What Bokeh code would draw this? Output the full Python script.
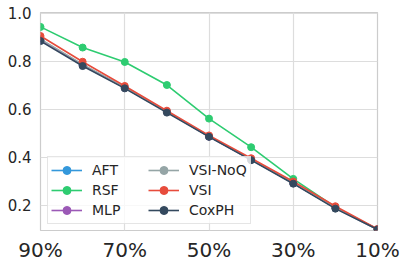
from bokeh.plotting import figure
from bokeh.models import Range1d, FixedTicker, Legend, LegendItem, NumeralTickFormatter
from bokeh.embed import file_html
from bokeh.resources import INLINE

x_vals = [90, 80, 70, 60, 50, 40, 30, 20, 10]
aft = [0.890, 0.785, 0.690, 0.590, 0.487, 0.390, 0.293, 0.190, 0.100]
rsf = [0.943, 0.857, 0.797, 0.701, 0.561, 0.442, 0.310, 0.192, 0.100]
mlp = [0.888, 0.783, 0.689, 0.589, 0.486, 0.390, 0.292, 0.189, 0.100]
vsi_noq = [0.892, 0.787, 0.691, 0.590, 0.488, 0.391, 0.294, 0.190, 0.100]
vsi = [0.905, 0.798, 0.697, 0.594, 0.491, 0.396, 0.299, 0.196, 0.101]
coxph = [0.884, 0.780, 0.687, 0.586, 0.485, 0.388, 0.290, 0.186, 0.099]

series_names = ["AFT", "RSF", "MLP", "VSI-NoQ", "VSI", "CoxPH"]
series_values = [aft, rsf, mlp, vsi_noq, vsi, coxph]
colors = ["#3498db", "#2ecc71", "#9b59b6", "#95a5a6", "#e74c3c", "#34495e"]

x_ticks = [90, 70, 50, 30, 10]
x_tick_labels = ["90%", "70%", "50%", "30%", "10%"]
y_ticks = [0.2, 0.4, 0.6, 0.8, 1.0]

p = figure(width=407, height=268, output_backend="svg", toolbar_location=None,
           x_range=Range1d(90, 10), y_range=Range1d(0.095, 1.003),
           min_border_left=40, min_border_right=30, min_border_top=12, min_border_bottom=38)
p.background_fill_color = "white"
p.border_fill_color = "white"
p.outline_line_color = "#cccccc"
p.outline_line_width = 1.2

for ax in (p.xaxis[0], p.yaxis[0]):
    ax.axis_label = None
    ax.axis_label_standoff = 0
    ax.axis_line_color = None
    ax.major_tick_line_color = None
    ax.minor_tick_line_color = None
    ax.major_tick_out = 0
    ax.major_tick_in = 0
    ax.minor_tick_out = 0
    ax.minor_tick_in = 0
    ax.major_label_text_font = "DejaVu Sans"
    ax.major_label_text_color = "#262626"

p.xaxis.ticker = FixedTicker(ticks=x_ticks)
p.xaxis.major_label_overrides = {t: l for t, l in zip(x_ticks, x_tick_labels)}
p.xaxis.major_label_text_font_size = "20px"
p.xaxis.major_label_standoff = 7
p.yaxis.ticker = FixedTicker(ticks=y_ticks)
p.yaxis.formatter = NumeralTickFormatter(format="0.0")
p.yaxis.major_label_text_font_size = "15px"
p.yaxis.major_label_standoff = 9

p.xgrid.grid_line_color = "#dddddd"
p.ygrid.grid_line_color = "#dddddd"
p.xgrid.grid_line_width = 1.2
p.ygrid.grid_line_width = 1.2

items = []
for name, vals, c in zip(series_names, series_values, colors):
    r1 = p.line(x_vals, vals, line_color=c, line_width=1.6)
    r2 = p.scatter(x_vals, vals, size=7, fill_color=c, line_color=c)
    items.append(LegendItem(label=name, renderers=[r1, r2]))

legend = Legend(items=items, location=(7, 6), nrows=3, orientation="vertical",
                glyph_width=31, glyph_height=20, label_height=20, label_width=56,
                label_standoff=10, padding=3, spacing=0, margin=0,
                label_text_font="DejaVu Sans", label_text_font_size="14px",
                label_text_color="#262626",
                border_line_color="#cccccc", border_line_width=1,
                background_fill_color="white", background_fill_alpha=0.8)
p.add_layout(legend, "center")

open("out.html", "w").write(file_html(p, INLINE))
